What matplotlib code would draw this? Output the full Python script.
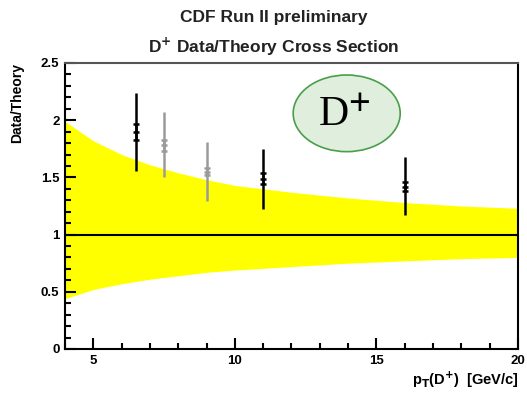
import matplotlib.pyplot as plt
from matplotlib.patches import Ellipse
from matplotlib.ticker import MultipleLocator
import numpy as np

plt.rcParams.update({
    'font.family': ['Liberation Sans', 'DejaVu Sans'],
    'font.weight': 'bold',
    'axes.linewidth': 1.5,
})

# Theory uncertainty band (Data/Theory)
band_pt = [4, 5, 6, 7, 8, 9, 10, 12, 14, 16, 18, 20]
band_hi = [1.99, 1.82, 1.70, 1.61, 1.54, 1.48, 1.43, 1.37, 1.32, 1.28, 1.25, 1.23]
band_lo = [0.44, 0.52, 0.57, 0.61, 0.64, 0.67, 0.69, 0.72, 0.75, 0.77, 0.79, 0.80]

# Data points
pt = [6.5, 7.5, 9.0, 11.0, 16.0]
ratio = [1.90, 1.78, 1.55, 1.49, 1.42]
err_lo = [0.34, 0.28, 0.26, 0.27, 0.25]
err_hi = [0.34, 0.29, 0.26, 0.26, 0.26]
stat = [0.07, 0.05, 0.03, 0.05, 0.04]
pt_colors = ['black', '#9a9a9a', '#9a9a9a', 'black', 'black']

fig = plt.figure(figsize=(5.27, 3.93), dpi=100)
ax = fig.add_axes([0.1233, 0.112, 0.8596, 0.7277])

ax.fill_between(band_pt, band_lo, band_hi, color='#ffff00', lw=0, zorder=1)
ax.axhline(1.0, color='black', lw=1.5, zorder=2)

for x, y, lo, hi, s, c in zip(pt, ratio, err_lo, err_hi, stat, pt_colors):
    ax.errorbar([x], [y], yerr=[[lo], [hi]], fmt='none', ecolor=c,
                elinewidth=1.8, zorder=3)
    ax.errorbar([x], [y], yerr=s, fmt='_', color=c, ms=5, mew=1.8,
                ecolor=c, capsize=2.5, capthick=1.5, elinewidth=1.8, zorder=4)

# D+ label in ellipse
ax.add_patch(Ellipse((13.95, 2.06), 3.78, 0.67, facecolor='#e0eedd',
                     edgecolor='#4a9e4a', lw=1.2, zorder=5))
ax.text(13.85, 2.04, r'D$^{+}$', family=['Liberation Serif', 'DejaVu Serif'],
        fontweight='normal', fontsize=30, ha='center', va='center', zorder=6,
        math_fontfamily='stix')

ax.set_xlim(4, 20)
ax.set_ylim(0, 2.5)
ax.xaxis.set_major_locator(MultipleLocator(5))
ax.xaxis.set_minor_locator(MultipleLocator(1))
ax.yaxis.set_major_locator(MultipleLocator(0.5))
ax.yaxis.set_minor_locator(MultipleLocator(0.1))
ax.tick_params(which='both', direction='in', top=False, right=False,
               labelsize=9.5, pad=4)
ax.tick_params(which='major', length=8, width=1.5)
ax.tick_params(which='minor', length=4, width=1.5)
ax.set_xticks([5, 10, 15, 20])
ax.set_xticklabels(['5', '10', '15', '20'], fontweight='bold')
ax.set_yticks([0, 0.5, 1, 1.5, 2, 2.5])
ax.set_yticklabels(['0', '0.5', '1', '1.5', '2', '2.5'], fontweight='bold')
ax.spines['top'].set_color('#555555')

ax.set_ylabel('Data/Theory', fontsize=10, fontweight='bold', loc='top',
              labelpad=12)
ax.set_xlabel(r'p$_{\mathbf{T}}$(D$^{\mathbf{+}}$)  [GeV/c]', fontsize=10.5,
              fontweight='bold', loc='right', labelpad=2)

fig.text(0.52, 0.955, 'CDF Run II preliminary', ha='center', va='center',
         fontsize=12.5, fontweight='bold', color='#222222')
fig.text(0.52, 0.88, r'D$^{\mathbf{+}}$ Data/Theory Cross Section',
         ha='center', va='center', fontsize=12.5, fontweight='bold',
         color='#222222')

plt.rcParams['mathtext.default'] = 'bf'
fig.savefig('out.png', dpi=100)
